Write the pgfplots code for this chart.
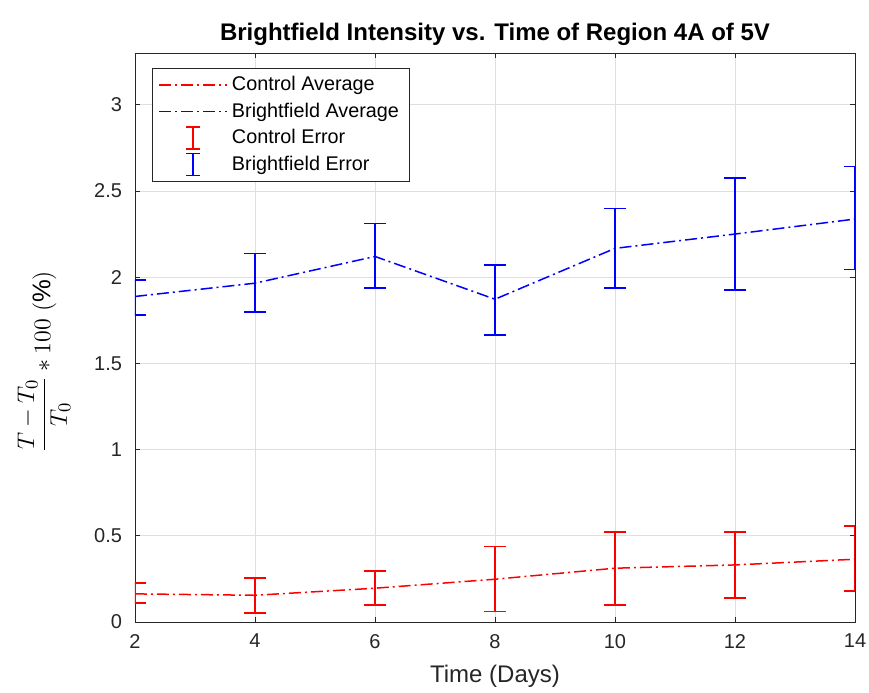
\documentclass[border=0pt]{standalone}
\usepackage{amsmath}
\usepackage{pgfplots}
\pgfplotsset{compat=1.18}
\usepackage{pgfplotstable}
\usepackage{fontspec}
\setmainfont{Liberation Sans}
\definecolor{axgray}{RGB}{38,38,38}
\definecolor{gridgray}{RGB}{223,223,223}
\definecolor{mblue}{RGB}{0,0,255}
\definecolor{mred}{RGB}{255,0,0}
\pgfplotstableread{
x y ep em
2 0.163 0.064 0.053
4 0.155 0.099 0.104
6 0.196 0.099 0.097
8 0.248 0.190 0.186
10 0.312 0.211 0.213
12 0.331 0.192 0.193
14 0.364 0.192 0.184
}\ctrl
\pgfplotstableread{
x y ep em
2 1.888 0.096 0.107
4 1.965 0.173 0.167
6 2.120 0.190 0.184
8 1.872 0.198 0.207
10 2.167 0.230 0.231
12 2.250 0.324 0.324
14 2.337 0.304 0.294
}\bright
\tikzset{dd/.style={line width=0.75pt, dash pattern=on 6pt off 2pt on 1pt off 2pt}}
\pgfplotsset{ddleg/.style={legend image code/.code={\draw[##1, line width=0.8pt] (0pt,0pt) -- (34pt,0pt);}}}
\begin{document}
\begin{tikzpicture}
\useasboundingbox (0,0) rectangle (434.5pt,346pt);
\begin{axis}[
  at={(67.5pt,35pt)}, anchor=south west,
  width=360pt, height=284.5pt, scale only axis,
  xmin=2, xmax=14, ymin=0, ymax=3.3,
  xtick={2,4,...,14}, ytick={0,0.5,...,3},
  tick align=inside, tick pos=both,
  major tick length=2.5pt,
  axis line style={axgray, line width=0.4pt},
  every tick/.style={axgray, line width=0.4pt},
  grid=major, major grid style={gridgray, line width=0.4pt},
  tick label style={font=\fontsize{10}{12}\selectfont, text=axgray},
  /pgf/number format/assume math mode=true,
  xticklabel style={yshift=-2.5pt},
  yticklabel style={xshift=-3pt},
  title={\textbf{Brightfield Intensity vs. Time of Region 4A of 5V}},
  title style={font=\fontsize{12}{14}\selectfont, yshift=-6pt},
  xlabel={Time (Days)},
  xlabel style={font=\fontsize{12}{14}\selectfont, text=axgray, yshift=-1.5pt},
  ylabel={$\dfrac{T-T_0}{T_0}*100\ (\%)$},
  ylabel style={font=\fontsize{12.8}{15}\selectfont, yshift=5pt, xshift=-12pt},
  legend style={at={(0,1)}, anchor=north west, xshift=8.5pt, yshift=-7.5pt,
    font=\fontsize{9.9}{12}\selectfont, draw=axgray, line width=0.4pt,
    row sep=0.6pt, inner xsep=3pt, inner ysep=2pt},
  legend cell align=left,
]
\addplot[draw=mred, dd, mark=none, ddleg]
  table[x=x,y=y] {\ctrl};
\addlegendentry{Control Average}
\addplot[draw=mblue, dd, mark=none, ddleg]
  table[x=x,y=y] {\bright};
\addlegendentry{Brightfield Average}
\addplot[draw=none, mark=none,
  legend image code/.code={\draw[mred, line width=0.75pt] (17pt,-5.5pt) -- (17pt,5.5pt) (13.5pt,5.5pt)--(20.5pt,5.5pt) (13.5pt,-5.5pt)--(20.5pt,-5.5pt);},
  error bars/.cd, y dir=both, y explicit,
  error bar style={draw=mred, line width=0.75pt, solid},
  error mark options={draw=mred, line width=0.75pt, mark size=5.5pt, rotate=90}]
  table[x=x,y=y,y error plus=ep,y error minus=em] {\ctrl};
\addlegendentry{Control Error}
\addplot[draw=none, mark=none,
  legend image code/.code={\draw[mblue, line width=0.75pt] (17pt,-5.5pt) -- (17pt,5.5pt) (13.5pt,5.5pt)--(20.5pt,5.5pt) (13.5pt,-5.5pt)--(20.5pt,-5.5pt);},
  error bars/.cd, y dir=both, y explicit,
  error bar style={draw=mblue, line width=0.75pt, solid},
  error mark options={draw=mblue, line width=0.75pt, mark size=5.5pt, rotate=90}]
  table[x=x,y=y,y error plus=ep,y error minus=em] {\bright};
\addlegendentry{Brightfield Error}
\end{axis}
\end{tikzpicture}
\end{document}
